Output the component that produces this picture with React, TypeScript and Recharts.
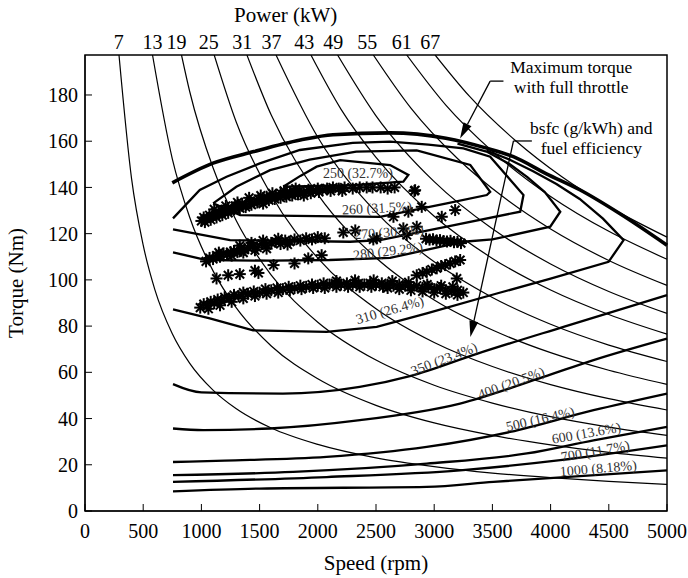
import { ComposedChart, Line, Scatter, XAxis, YAxis, ReferenceArea, ReferenceDot, ReferenceLine } from 'recharts'

type Pt = [number, number]

const FONT = "'Liberation Serif', 'Times New Roman', serif"

const speedTicks = [0, 500, 1000, 1500, 2000, 2500, 3000, 3500, 4000, 4500, 5000]
const torqueTicks = [0, 20, 40, 60, 80, 100, 120, 140, 160, 180]
const powerLabels = ['7', '13', '19', '25', '31', '37', '43', '49', '55', '61', '67']
const powerLabelRpm = [290, 580, 786, 1064, 1350, 1603, 1884, 2133, 2425, 2721, 2965]

// constant power lines (rpm, Nm)
const power7: Pt[] = [[292, 197.3], [400, 143.8], [500, 115], [600, 95.8], [750, 76.7], [900, 63.9], [1100, 52.3], [1300, 44.2], [1600, 35.9], [2000, 28.8], [2500, 23], [3000, 19.2], [3500, 16.4], [4000, 14.4], [4500, 12.8], [5000, 11.5]]
const power13: Pt[] = [[580, 197.3], [750, 152.4], [900, 127], [1100, 103.9], [1300, 87.9], [1600, 71.4], [2000, 57.2], [2500, 45.7], [3000, 38.1], [3500, 32.7], [4000, 28.6], [4500, 25.4], [5000, 22.9]]
const power19: Pt[] = [[829, 197.3], [900, 181.4], [1100, 148.5], [1300, 125.6], [1600, 102.1], [2000, 81.7], [2500, 65.3], [3000, 54.4], [3500, 46.7], [4000, 40.8], [4500, 36.3], [5000, 32.7]]
const power25: Pt[] = [[1110, 197.3], [1300, 168.2], [1600, 136.7], [2000, 109.4], [2500, 87.5], [3000, 72.9], [3500, 62.5], [4000, 54.7], [4500, 48.6], [5000, 43.7]]
const power31: Pt[] = [[1391, 197.3], [1600, 171.3], [2000, 137], [2500, 109.6], [3000, 91.3], [3500, 78.3], [4000, 68.5], [4500, 60.9], [5000, 54.8]]
const power37: Pt[] = [[1641, 197.3], [2000, 161.7], [2500, 129.3], [3000, 107.8], [3500, 92.4], [4000, 80.8], [4500, 71.8], [5000, 64.7]]
const power43: Pt[] = [[1941, 197.3], [2200, 173.8], [2500, 153], [3000, 127.5], [3500, 109.3], [4000, 95.6], [4500, 85], [5000, 76.5]]
const power49: Pt[] = [[2170, 197.3], [2500, 171], [3000, 142.5], [3500, 122.1], [4000, 106.9], [4500, 95], [5000, 85.5]]
const power55: Pt[] = [[2477, 197.3], [2800, 174.3], [3200, 152.5], [3600, 135.6], [4000, 122], [4500, 108.4], [5000, 97.6]]
const power61: Pt[] = [[2764, 197.3], [3100, 175.6], [3500, 155.6], [4000, 136.1], [4500, 121], [5000, 108.9]]
const power67: Pt[] = [[3008, 197.3], [3300, 179.6], [3700, 160.2], [4100, 144.5], [4500, 131.7], [5000, 118.5]]

// full-throttle torque and bsfc contours
const maxTorque: Pt[] = [[750, 142], [1100, 150.5], [1450, 155.5], [1850, 160.5], [2130, 162.8], [2620, 163.6], [3100, 161.3], [3450, 157], [3680, 153.3], [3960, 146], [4250, 139], [4600, 128.5], [5000, 115]]
const bsfc250: Pt[] = [[1703, 140.3], [1850, 145], [1990, 149], [2192, 151.8], [2621, 149.7], [2778, 145.4], [2735, 142.5], [2300, 141], [1703, 140.3]]
const bsfc260: Pt[] = [[1101, 133.1], [1300, 140.3], [1590, 147.5], [1930, 152], [2330, 155.5], [2850, 156], [3310, 149.7], [3481, 138.1], [3452, 136.7], [3108, 133.1], [2534, 127.3], [1333, 128], [1101, 133.1]]
const bsfc270: Pt[] = [[756, 126.6], [986, 138.9], [1216, 144.6], [1502, 150.4], [1846, 156.2], [2300, 159.3], [2621, 159.8], [2950, 158.5], [3251, 156.9], [3481, 153.3], [3767, 136.7], [3739, 129.5], [3108, 123], [2534, 117.2], [2277, 116.5], [1246, 117.2], [756, 121.9]]
const bsfc280: Pt[] = [[3200, 159], [3450, 155.5], [3650, 150], [3800, 144.5], [3950, 138], [4083, 129.5], [3997, 123], [3500, 117.5], [3251, 116.5], [2621, 109.5], [2100, 108.6], [1600, 108.3], [1044, 108.6], [756, 111.9]]
const bsfc310: Pt[] = [[3450, 156], [3650, 152], [3850, 147], [4050, 141.5], [4250, 135], [4450, 126.5], [4627, 117.2], [4498, 107.8], [4000, 100.5], [3538, 94.1], [2936, 85.5], [2506, 79.7], [2076, 77.5], [1444, 78.2], [1072, 83.3], [756, 87.2]]
const bsfc350: Pt[] = [[756, 54.9], [1000, 51.3], [1700, 50.8], [2360, 53.7], [2800, 58.5], [3366, 68], [4111, 79.7], [5000, 93.4]]
const bsfc400: Pt[] = [[756, 35.7], [1015, 35], [1589, 35.7], [2362, 39.3], [3222, 46.5], [3939, 58], [4369, 65.3], [5000, 74.6]]
const bsfc500: Pt[] = [[756, 21.2], [1200, 21.8], [2076, 23.4], [2936, 27.7], [3653, 34.2], [4369, 43.6], [5000, 50.8]]
const bsfc600: Pt[] = [[756, 15.5], [1789, 16.9], [2936, 20.5], [3796, 24.9], [4369, 30.6], [5000, 36.4]]
const bsfc700: Pt[] = [[756, 12.6], [2076, 14.7], [3222, 17.6], [4083, 22], [5000, 28.4]]
const bsfc1000: Pt[] = [[756, 8.5], [1502, 9.7], [2936, 10.4], [3509, 12.6], [5000, 17.6]]

// measured operating points
const opUpper: Pt[] = [[1000, 125.5], [1020, 127], [1045, 126.5], [1070, 128], [1095, 127.5], [1120, 129], [1150, 128.5], [1175, 130], [1200, 129.5], [1230, 131], [1260, 130.5], [1290, 132], [1320, 131.5], [1350, 133], [1385, 132.5], [1420, 134], [1455, 133.5], [1490, 135], [1525, 134.5], [1560, 136], [1600, 135.5], [1640, 136.5], [1680, 137.5], [1720, 137], [1760, 138], [1800, 137.5], [1840, 138.5], [1880, 138], [1920, 139], [1960, 138.5], [2000, 139.5], [2040, 139], [2080, 139.5], [2130, 140], [2180, 139.5], [2230, 140], [2300, 139.5], [2360, 140], [2420, 140], [2470, 140], [2540, 140], [2600, 139.5], [2660, 140], [2830, 138.5],
  [1030, 125], [1080, 126], [1130, 127], [1180, 128], [1230, 129], [1280, 130.5], [1330, 131], [1380, 131.5], [1430, 132.5], [1480, 133.5], [1530, 133], [1580, 134.5], [1630, 135], [1680, 135.5], [1730, 136], [1780, 136.5], [1830, 137], [1880, 136.5], [1940, 137.5], [2010, 138], [2110, 138.5], [2210, 138.5], [1110, 130.5], [1210, 132], [1310, 133.5], [1410, 135.5], [1510, 136.5], [1610, 137.5], [1710, 138.5], [1810, 139.5]]
const opMiddle: Pt[] = [[1040, 108], [1070, 109.5], [1100, 109], [1130, 110.5], [1160, 110], [1190, 111.5], [1220, 111], [1250, 112], [1280, 112.5], [1310, 112], [1340, 113.5], [1370, 113], [1400, 114], [1440, 114.5], [1480, 114], [1520, 115.5], [1560, 115], [1600, 116], [1640, 116.5], [1680, 115.5], [1720, 117], [1760, 116.5], [1800, 117.5], [1850, 117], [1900, 118], [1950, 117.5], [2000, 118.5], [2060, 118], [2219, 120.5], [2322, 121.4], [2477, 117.5], [2764, 119.4], [2850, 123], [2735, 122.3], [2930, 117.8], [2960, 117.4], [2990, 117.6], [3020, 117], [3050, 117.2], [3080, 116.8], [3110, 116.6], [3140, 116.9], [3170, 116.3], [3200, 116.4], [3230, 115.9],
  [1150, 111.8], [1260, 110.5], [1360, 111.8], [1460, 112.8], [1560, 113.5], [1660, 117.8], [1740, 115.3], [1330, 114.8], [1430, 116], [1530, 117]]
const opScattered: Pt[] = [[1130, 100.6], [1230, 102], [1330, 102.5], [1460, 104], [1490, 103], [1620, 106.4], [1800, 107.1], [1918, 109.3], [2033, 110.7], [2650, 127.3], [2778, 129.5], [2836, 138.8], [2893, 131.6], [3065, 127.3], [3180, 130.2], [2506, 118]]
const opLower: Pt[] = [[990, 88], [1020, 89.5], [1050, 89], [1080, 90.5], [1110, 90], [1140, 91.5], [1170, 91], [1200, 92.5], [1240, 92], [1280, 93.5], [1320, 93], [1360, 94.5], [1400, 94], [1450, 95], [1500, 94.5], [1550, 96], [1600, 95.5], [1650, 96.5], [1700, 96], [1750, 97], [1800, 96.5], [1850, 97.5], [1900, 97], [1950, 98], [2000, 97.5], [2050, 98.5], [2100, 98], [2150, 98.5], [2200, 98], [2250, 98.5], [2300, 98], [2350, 98.5], [2400, 98], [2450, 98.5], [2500, 98], [2550, 98.5], [2600, 98], [2650, 97.5], [2700, 98], [2750, 97.5], [2800, 97], [2850, 97.5], [2900, 96.5], [2950, 97], [3000, 96], [3050, 96.5], [3100, 95.5], [3150, 95], [3200, 95.5], [3250, 94.5], [2600, 96.5], [2700, 96], [2800, 95.5], [2900, 95], [3000, 94.5], [3100, 94], [3200, 93.5],
  [1060, 87.5], [1160, 89], [1260, 90.5], [1360, 92], [1460, 93], [1560, 94], [1660, 94.5], [1760, 95.5], [1860, 96], [1960, 96.5], [2060, 96.5], [2160, 97], [2260, 97], [2360, 97], [2460, 97], [2560, 97], [2160, 99.5], [2320, 99.8], [2480, 99.8], [2640, 99.5], [2780, 99], [2940, 98], [3060, 97.5], [3160, 97]]
const opRising: Pt[] = [[2850, 102], [2900, 103], [2936, 103.5], [2980, 104.5], [3022, 105], [3060, 106], [3094, 106.4], [3137, 107.1], [3180, 108], [3223, 108.6], [3194, 100.6]]

const powerLines = [power7, power13, power19, power25, power31, power37, power43, power49, power55, power61, power67]
const openContours = [bsfc350, bsfc400, bsfc500, bsfc600, bsfc700, bsfc1000]
const loopContours = [bsfc250, bsfc260, bsfc270, bsfc280, bsfc310]
const opSets = [opUpper, opMiddle, opScattered, opLower, opRising]

const contourLabels = ['250 (32.7%)', '260 (31.5%)', '270 (30.3%)', '280 (29.2%)', '310 (26.4%)', '350 (23.4%)', '400 (20.5%)', '500 (16.4%)', '600 (13.6%)', '700 (11.7%)', '1000 (8.18%)']
// label anchor (rpm, Nm) and tilt
const labelAt: Pt[] = [[2345, 146.2], [2509, 131], [2612, 120.6], [2603, 112.4], [2620, 86.9], [3085, 65.7], [3662, 55.3], [3911, 39.7], [4307, 33.6], [4384, 25.8], [4410, 18.4]]
const labelTilt = [0, -3, -4, -7, -16, -21, -20, -13, -10, -10, -5]

const toXY = (pts: Pt[]) => pts.map(([x, y]) => ({ x, y }))

function Asterisk(props: any) {
  const { cx, cy } = props
  if (cx == null || cy == null) return null
  const r = 6
  const d = r * 0.72
  return (
    <g stroke="#000" strokeWidth={2}>
      <line x1={cx - r} y1={cy} x2={cx + r} y2={cy} />
      <line x1={cx} y1={cy - r} x2={cx} y2={cy + r} />
      <line x1={cx - d} y1={cy - d} x2={cx + d} y2={cy + d} />
      <line x1={cx - d} y1={cy + d} x2={cx + d} y2={cy - d} />
    </g>
  )
}

function Arrow(props: any) {
  const { x1, y1, x2, y2 } = props
  const dx = x2 - x1
  const dy = y2 - y1
  const len = Math.hypot(dx, dy) || 1
  const ux = dx / len
  const uy = dy / len
  const hl = 16
  const hw = 4.5
  const bx = x2 - ux * hl
  const by = y2 - uy * hl
  return (
    <g>
      <line x1={x1} y1={y1} x2={bx} y2={by} stroke="#000" strokeWidth={1.3} />
      <polygon points={`${x2},${y2} ${bx - uy * hw},${by + ux * hw} ${bx + uy * hw},${by - ux * hw}`} fill="#000" />
    </g>
  )
}

const textShape = (text: string, size: number, angle = 0, fill = '#000') => (p: any) => (
  <text
    x={p.cx}
    y={p.cy}
    textAnchor="middle"
    dominantBaseline="central"
    fontFamily={FONT}
    fontSize={size}
    fill={fill}
    transform={angle ? `rotate(${angle}, ${p.cx}, ${p.cy})` : undefined}
  >
    {text}
  </text>
)

export default function App() {
  return (
    <div style={{ position: 'absolute', left: 0, top: 0, width: 688, height: 578, background: '#fff' }}>
      <ComposedChart width={688} height={578} margin={{ top: 10, right: 21, left: 0, bottom: 0 }}>
        <XAxis
          xAxisId="top"
          orientation="top"
          type="number"
          dataKey="x"
          domain={[0, 5000]}
          ticks={powerLabelRpm}
          interval={0}
          tickFormatter={(v: number) => powerLabels[powerLabelRpm.indexOf(v)]}
          height={45}
          axisLine={false}
          tickLine={false}
          tickMargin={0}
          tick={{ fill: '#000', fontSize: 20, fontFamily: FONT }}
        />
        <XAxis
          type="number"
          dataKey="x"
          domain={[0, 5000]}
          ticks={speedTicks}
          interval={0}
          height={67}
          tickSize={-7}
          tickMargin={20}
          stroke="#000"
          tick={{ fill: '#000', fontSize: 20, fontFamily: FONT }}
          label={{ value: 'Speed (rpm)', position: 'insideBottom', offset: 8, fill: '#000', fontSize: 21, fontFamily: FONT }}
        />
        <YAxis
          type="number"
          dataKey="y"
          domain={[0, 197.3]}
          ticks={torqueTicks}
          interval={0}
          width={85}
          tickSize={-7}
          tickMargin={14}
          stroke="#000"
          allowDataOverflow
          tick={{ fill: '#000', fontSize: 20, fontFamily: FONT }}
          label={{ value: 'Torque (Nm)', angle: -90, position: 'insideLeft', offset: 16, fill: '#000', fontSize: 21, fontFamily: FONT, style: { textAnchor: 'middle' } }}
        />
        <ReferenceArea x1={0} x2={5000} y1={0} y2={197.3} fill="none" stroke="#000" strokeWidth={1.5} ifOverflow="visible" />

        {/* carries the top (power) axis */}
        <Line xAxisId="top" data={toXY(power67)} dataKey="y" stroke="none" dot={false} isAnimationActive={false} />

        {powerLines.map((pts, i) => (
          <Line key={'p' + i} data={toXY(pts)} dataKey="y" type="monotone" stroke="#000" strokeWidth={1.2} dot={false} isAnimationActive={false} />
        ))}
        {openContours.map((pts, i) => (
          <Line key={'o' + i} data={toXY(pts)} dataKey="y" type="monotone" stroke="#000" strokeWidth={2.3} dot={false} isAnimationActive={false} />
        ))}
        {loopContours.map((pts, i) => (
          <Line key={'l' + i} data={toXY(pts)} dataKey="y" type="linear" stroke="#000" strokeWidth={2.3} dot={false} isAnimationActive={false} />
        ))}
        <Line data={toXY(maxTorque)} dataKey="y" type="monotone" stroke="#000" strokeWidth={3.6} dot={false} isAnimationActive={false} />

        {opSets.map((pts, i) => (
          <Scatter key={'s' + i} data={toXY(pts)} dataKey="y" shape={Asterisk} isAnimationActive={false} />
        ))}

        {contourLabels.map((t, i) => (
          <ReferenceDot key={'t' + i} x={labelAt[i][0]} y={labelAt[i][1]} r={0} shape={textShape(t, 14, labelTilt[i], '#333')} />
        ))}

        <ReferenceDot x={4177} y={192.1} r={0} shape={textShape('Maximum torque', 17.5)} />
        <ReferenceDot x={4177} y={183.4} r={0} shape={textShape('with full throttle', 17.5)} />
        <ReferenceDot x={4350} y={165.7} r={0} shape={textShape('bsfc (g/kWh) and', 17.5)} />
        <ReferenceDot x={4350} y={157} r={0} shape={textShape('fuel efficiency', 17.5)} />
        <ReferenceDot x={1724} y={214.6} r={0} ifOverflow="visible" shape={textShape('Power (kW)', 21)} />

        <ReferenceLine segment={[{ x: 3595, y: 186 }, { x: 3481, y: 186 }]} stroke="#000" strokeWidth={1.3} ifOverflow="visible" />
        <ReferenceLine segment={[{ x: 3481, y: 186 }, { x: 3222, y: 161.2 }]} shape={Arrow} ifOverflow="visible" />
        <ReferenceLine segment={[{ x: 3839, y: 160.1 }, { x: 3681, y: 160.1 }]} stroke="#000" strokeWidth={1.3} ifOverflow="visible" />
        <ReferenceLine segment={[{ x: 3681, y: 160.1 }, { x: 3311, y: 75.3 }]} shape={Arrow} ifOverflow="visible" />
      </ComposedChart>
    </div>
  )
}
